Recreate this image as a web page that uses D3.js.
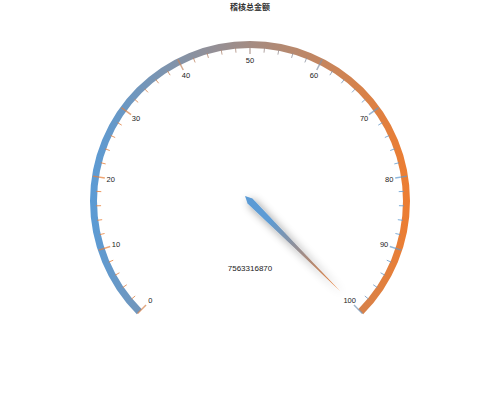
<!DOCTYPE html>
<html>
<head>
<meta charset="utf-8">
<script src="https://cdn.jsdelivr.net/npm/d3@7"></script>
<style>
  body { margin: 0; background: #fff; }
  text { font-family: "Liberation Sans", "Noto Sans CJK SC", sans-serif; }
</style>
</head>
<body>
<div id="chart"></div>
<script>
// Data
const title = "稽核总金额";
const gaugeValue = 7563316870;
const gaugeMin = 0;
const gaugeMax = 100;
const splitNumber = 10;
const subTicks = 5;

const width = 500;
const height = 404;
const cx = 250, cy = 201;
const outerR = 160;
const lineW = 7;

const blue = "#5b9bd5";
const orange = "#ed7d31";

const svg = d3.select("#chart")
  .append("svg")
  .attr("width", width)
  .attr("height", height);

const defs = svg.append("defs");

// gradient for the axis line (blue -> orange, left to right)
// coordinates are local to the translated arc path
const gAxis = defs.append("linearGradient")
  .attr("id", "axisGrad")
  .attr("gradientUnits", "userSpaceOnUse")
  .attr("x1", -outerR).attr("y1", 0)
  .attr("x2", outerR).attr("y2", 0);
gAxis.append("stop").attr("offset", "0%").attr("stop-color", blue);
gAxis.append("stop").attr("offset", "100%").attr("stop-color", orange);

// ticks use the reversed gradient
const gTick = defs.append("linearGradient")
  .attr("id", "tickGrad")
  .attr("gradientUnits", "userSpaceOnUse")
  .attr("x1", cx - outerR).attr("y1", 0)
  .attr("x2", cx + outerR).attr("y2", 0);
gTick.append("stop").attr("offset", "0%").attr("stop-color", orange);
gTick.append("stop").attr("offset", "100%").attr("stop-color", blue);

// angle scale (radians, 0 = 12 o'clock, clockwise)
const angle = d3.scaleLinear()
  .domain([gaugeMin, gaugeMax])
  .range([-0.75 * Math.PI, 0.75 * Math.PI])
  .clamp(true);

const pt = (v, r) => {
  const a = angle(v);
  return [cx + r * Math.sin(a), cy - r * Math.cos(a)];
};

// title
svg.append("text")
  .attr("x", width / 2)
  .attr("y", 10)
  .attr("text-anchor", "middle")
  .style("font-family", "Noto Sans CJK SC")
  .style("font-size", "8px")
  .style("font-weight", "bold")
  .attr("fill", "#333")
  .text(title);

// axis line
const arc = d3.arc()
  .innerRadius(outerR - lineW)
  .outerRadius(outerR)
  .startAngle(angle(gaugeMin))
  .endAngle(angle(gaugeMax));

svg.append("path")
  .attr("d", arc())
  .attr("transform", `translate(${cx},${cy})`)
  .attr("fill", "url(#axisGrad)");

// small ticks
const minorVals = d3.range(0, splitNumber * subTicks + 1)
  .map(i => gaugeMin + (gaugeMax - gaugeMin) * i / (splitNumber * subTicks))
  .filter((v, i) => i % subTicks !== 0);

svg.append("g")
  .selectAll("line")
  .data(minorVals)
  .enter()
  .append("line")
  .attr("x1", d => pt(d, outerR - lineW + 1)[0])
  .attr("y1", d => pt(d, outerR - lineW + 1)[1])
  .attr("x2", d => pt(d, outerR - lineW - 4)[0])
  .attr("y2", d => pt(d, outerR - lineW - 4)[1])
  .attr("stroke", "url(#tickGrad)")
  .attr("stroke-width", 1)
  .attr("opacity", 0.8);

// split lines
const majorVals = d3.range(0, splitNumber + 1)
  .map(i => gaugeMin + (gaugeMax - gaugeMin) * i / splitNumber);

svg.append("g")
  .selectAll("line")
  .data(majorVals)
  .enter()
  .append("line")
  .attr("x1", d => pt(d, outerR - 1)[0])
  .attr("y1", d => pt(d, outerR - 1)[1])
  .attr("x2", d => pt(d, outerR - 13)[0])
  .attr("y2", d => pt(d, outerR - 13)[1])
  .attr("stroke", "url(#tickGrad)")
  .attr("stroke-width", 1.5)
  .attr("opacity", 0.7);

// axis labels
svg.append("g")
  .selectAll("text")
  .data(majorVals)
  .enter()
  .append("text")
  .attr("x", d => pt(d, 141)[0])
  .attr("y", d => pt(d, 141)[1])
  .attr("dy", "0.35em")
  .attr("text-anchor", "middle")
  .style("font-size", "7.5px")
  .attr("fill", "#222")
  .text(d => d);

// pointer
const shadow = defs.append("filter")
  .attr("id", "pshadow")
  .attr("x", "-50%").attr("y", "-50%")
  .attr("width", "200%").attr("height", "200%");
shadow.append("feDropShadow")
  .attr("dx", 3).attr("dy", 3)
  .attr("stdDeviation", 4)
  .attr("flood-color", "#000")
  .attr("flood-opacity", 0.45);

const pLen = outerR * 0.8;
const pW = 3.5;
const tip = pt(gaugeValue, pLen);
const a = angle(gaugeValue);
const back = [cx - Math.sin(a) * pW * 2, cy + Math.cos(a) * pW * 2];
const side1 = [cx + Math.cos(a) * pW, cy + Math.sin(a) * pW];
const side2 = [cx - Math.cos(a) * pW, cy - Math.sin(a) * pW];

const gPtr = defs.append("linearGradient")
  .attr("id", "ptrGrad")
  .attr("gradientUnits", "userSpaceOnUse")
  .attr("x1", back[0]).attr("y1", back[1])
  .attr("x2", tip[0]).attr("y2", tip[1]);
gPtr.append("stop").attr("offset", "0%").attr("stop-color", blue);
gPtr.append("stop").attr("offset", "25%").attr("stop-color", blue);
gPtr.append("stop").attr("offset", "100%").attr("stop-color", orange);

svg.append("path")
  .attr("d", d3.line()([back, side1, tip, side2, back]))
  .attr("fill", "url(#ptrGrad)")
  .attr("filter", "url(#pshadow)");

// detail value
svg.append("text")
  .attr("x", cx)
  .attr("y", 268)
  .attr("dy", "0.35em")
  .attr("text-anchor", "middle")
  .style("font-size", "8px")
  .attr("fill", "#222")
  .text(gaugeValue);
</script>
</body>
</html>
